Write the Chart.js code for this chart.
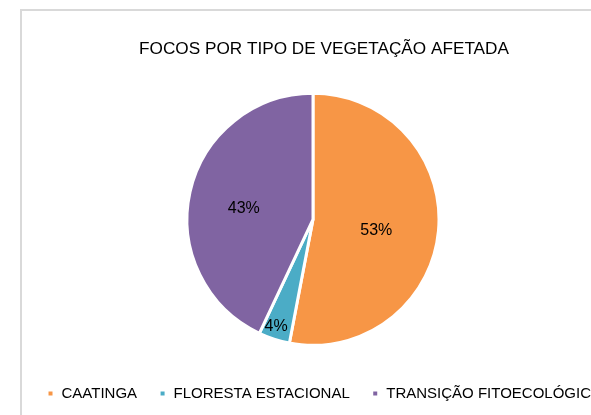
<!DOCTYPE html>
<html>
<head>
<meta charset="utf-8">
<script src="https://cdn.jsdelivr.net/npm/chart.js@4/dist/chart.umd.min.js"></script>
<style>
  html, body { margin: 0; padding: 0; background: #fff; overflow: hidden; width: 591px; height: 415px; }
  #frame { position: absolute; left: 20px; top: 9px; width: 640px; height: 440px; border: 2px solid #d9d9d9; }
  #wrap { position: absolute; left: 22px; top: 11px; width: 604px; height: 420px; }
</style>
</head>
<body>
<div id="frame"></div>
<div id="wrap"><canvas id="chart"></canvas></div>
<script>
var titleText = 'FOCOS POR TIPO DE VEGETAÇÃO AFETADA';
var categories = ['CAATINGA', 'FLORESTA ESTACIONAL', 'TRANSIÇÃO FITOECOLÓGICA'];
var values = [53, 4, 43];
var colors = ['#F79646', '#4BACC6', '#8064A2'];
// where each percent label sits: share of the radius, and a small turn (degrees) off the slice middle
var labelRadius = [0.51, 0.9, 0.556];
var labelTurn = [4.6, 1, -3.9];

var pctLabels = {
    id: 'pctLabels',
    afterDatasetsDraw: function(chart) {
        var ctx = chart.ctx;
        var total = values.reduce(function(a, b) { return a + b; }, 0);
        var meta = chart.getDatasetMeta(0);
        ctx.save();
        ctx.font = '16px "Liberation Sans"';
        ctx.fillStyle = '#000';
        ctx.textAlign = 'center';
        ctx.textBaseline = 'middle';
        meta.data.forEach(function(arc, i) {
            var p = arc.getProps(['x', 'y', 'startAngle', 'endAngle', 'outerRadius']);
            var mid = (p.startAngle + p.endAngle) / 2 + labelTurn[i] * Math.PI / 180;
            var r = p.outerRadius * labelRadius[i];
            var txt = Math.round(values[i] / total * 100) + '%';
            ctx.fillText(txt, p.x + Math.cos(mid) * r, p.y + Math.sin(mid) * r);
        });
        ctx.restore();
    }
};

// pie sits a little left of the title centre, as in the original
var shiftPie = {
    id: 'shiftPie',
    afterLayout: function(chart) {
        chart.chartArea.left -= 11;
        chart.chartArea.right -= 11;
    }
};

var ctx = document.getElementById('chart');
var chart = new Chart(ctx, {
    type: 'pie',
    data: {
        labels: categories,
        datasets: [{
            data: values,
            backgroundColor: colors,
            borderColor: '#ffffff',
            borderWidth: 3,
            radius: 126
        }]
    },
    options: {
        responsive: true,
        maintainAspectRatio: false,
        animation: false,
        layout: { padding: { bottom: 20 } },
        plugins: {
            title: {
                display: true,
                text: titleText,
                color: '#000',
                font: { family: 'Liberation Sans', size: 17.2, weight: 'normal' },
                padding: { top: 28, bottom: 15 }
            },
            legend: {
                position: 'bottom',
                labels: {
                    color: '#000',
                    font: { family: 'Liberation Sans', size: 15 },
                    boxWidth: 7,
                    boxHeight: 7,
                    padding: 22
                }
            },
            tooltip: { enabled: false }
        }
    },
    plugins: [pctLabels, shiftPie]
});
</script>
</body>
</html>
